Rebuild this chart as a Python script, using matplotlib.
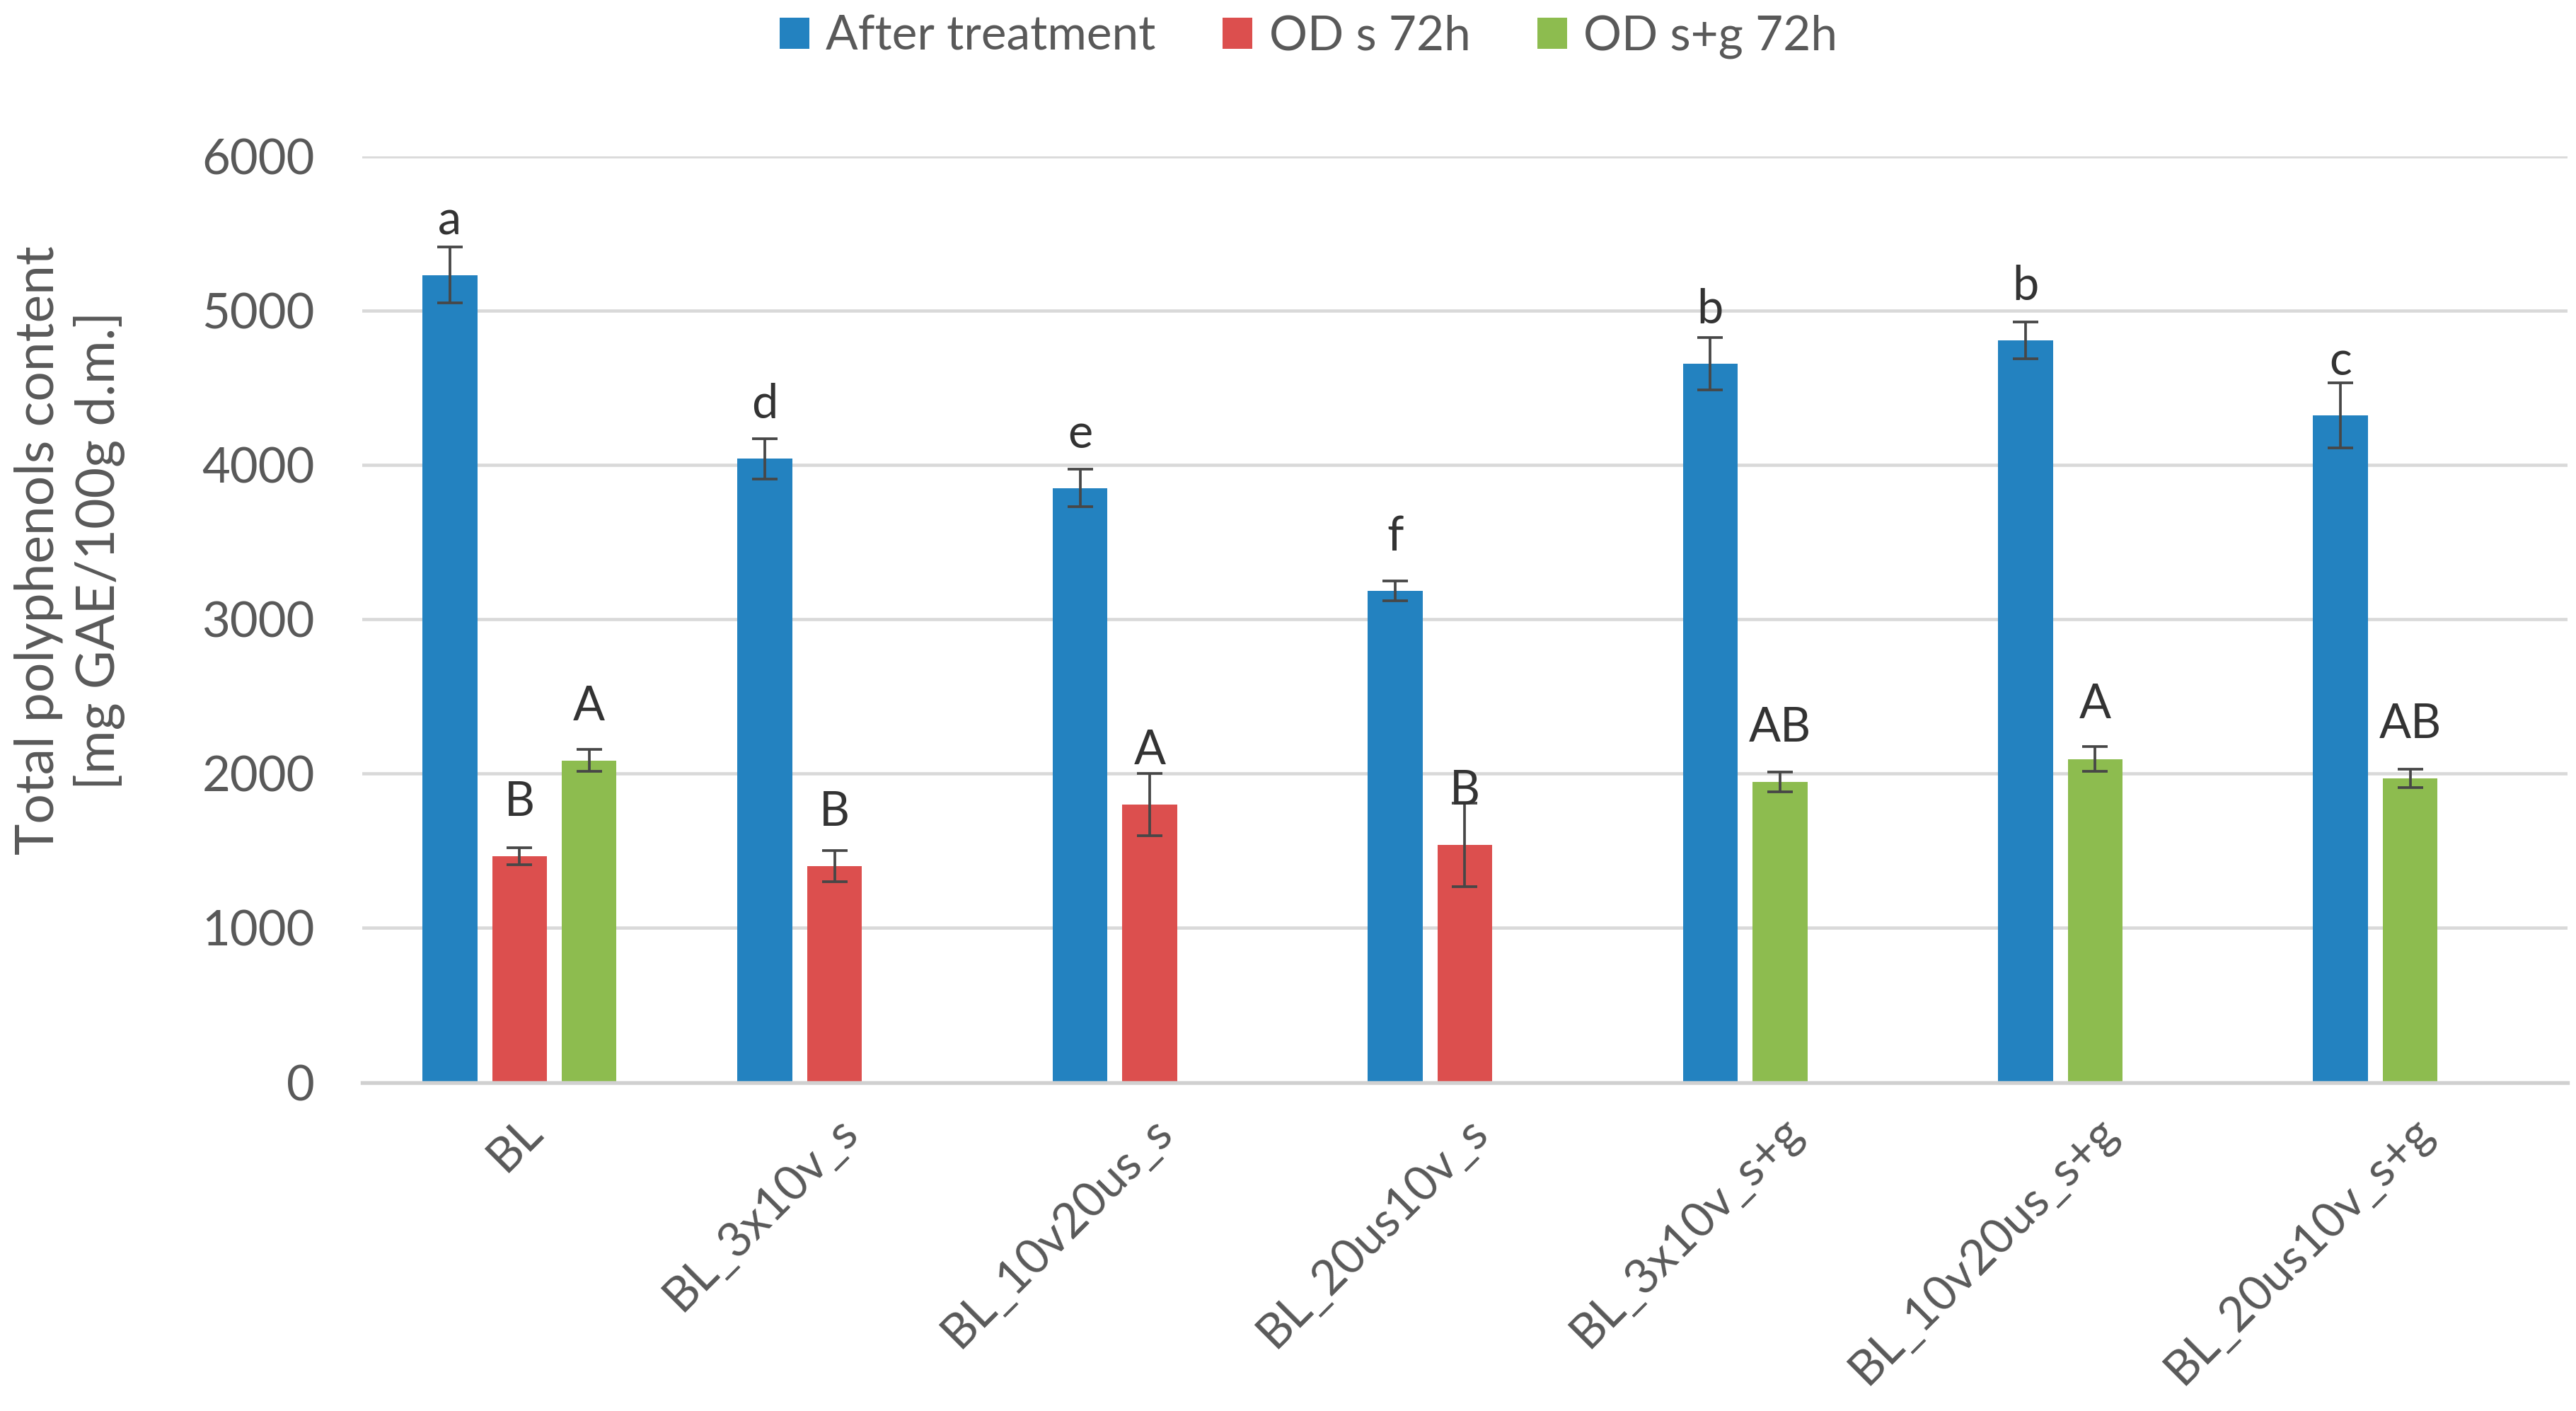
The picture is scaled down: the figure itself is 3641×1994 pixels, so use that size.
import numpy as np
import matplotlib
matplotlib.use('Agg')
import matplotlib.pyplot as plt
from matplotlib.patches import Patch

plt.rcParams['font.family'] = ['Lato', 'DejaVu Sans']

# ── data ──────────────────────────────────────────────────────────────────────
categories = ['BL', 'BL_3x10v_s', 'BL_10v20us_s', 'BL_20us10v_s',
              'BL_3x10v_s+g', 'BL_10v20us_s+g', 'BL_20us10v_s+g']
series_names = ['After treatment', 'OD s 72h', 'OD s+g 72h']

after_mean = [5230, 4040, 3850, 3185, 4655, 4805, 4320]
after_err  = [180, 130, 120, 65, 170, 120, 210]
after_lbl  = ['a', 'd', 'e', 'f', 'b', 'b', 'c']

ods_mean = [1465, 1400, 1800, 1540, None, None, None]
ods_err  = [55, 100, 200, 270, None, None, None]
ods_lbl  = ['B', 'B', 'A', 'B', None, None, None]

odsg_mean = [2085, None, None, None, 1945, 2095, 1970]
odsg_err  = [70, None, None, None, 65, 80, 60]
odsg_lbl  = ['A', None, None, None, 'AB', 'A', 'AB']

colors = ['#2382C0', '#DC4F4E', '#8DBC4F']

# ── layout ────────────────────────────────────────────────────────────────────
BAR_W = 0.174
STEP  = 0.221

fig = plt.figure(figsize=(3641 / 300, 1994 / 300), dpi=300)
ax = fig.add_axes([0.1405, 0.2329, 0.8563, 0.6565])

all_series = [(after_mean, after_err, after_lbl),
              (ods_mean, ods_err, ods_lbl),
              (odsg_mean, odsg_err, odsg_lbl)]

# bars present in a category are packed left to right (Excel skipped empties)
slot = np.zeros(len(categories), dtype=int)
for (means, errs, lbls), col in zip(all_series, colors):
    xs, ys, es, ls = [], [], [], []
    for i, m in enumerate(means):
        if m is None:
            continue
        xs.append(i + (slot[i] - 1) * STEP)
        ys.append(m); es.append(errs[i]); ls.append(lbls[i])
        slot[i] += 1
    ax.bar(xs, ys, width=BAR_W, color=col, zorder=2)
    ax.errorbar(xs, ys, yerr=es, fmt='none', ecolor='#474747',
                elinewidth=0.9, capsize=4.3, capthick=0.9, zorder=3)
    for x, y, l in zip(xs, ys, ls):
        ax.annotate(l, (x, y), xytext=(0, 13.7), textcoords='offset points',
                    ha='center', va='baseline', fontsize=16, color='#333333',
                    zorder=4)

# ── axes styling ──────────────────────────────────────────────────────────────
ax.set_xlim(-0.5, len(categories) - 0.5)
ax.set_ylim(0, 6000)
ax.set_yticks(np.arange(0, 6001, 1000))
ax.yaxis.grid(True, color='#D9D9D9', linewidth=1.1, zorder=0)
ax.set_axisbelow(True)
for s in ['top', 'right', 'left']:
    ax.spines[s].set_visible(False)
ax.spines['bottom'].set_color('#D0D0D0')
ax.spines['bottom'].set_linewidth(1.3)
ax.tick_params(axis='both', length=0, colors='#595959')
ax.tick_params(axis='y', pad=16, labelsize=16.5)
ax.tick_params(axis='x', pad=9, labelsize=16.3)

ax.set_xticks(range(len(categories)))
ax.set_xticklabels(categories, rotation=45, ha='right', rotation_mode='anchor')

fig.text(0.027, 0.61, 'Total polyphenols content\n[mg GAE/100g d.m.]',
         rotation=90, ha='center', va='center', multialignment='center',
         fontsize=18, color='#595959', linespacing=1.25)

handles = [Patch(facecolor=c) for c in colors]
fig.legend(handles, series_names, loc='center', bbox_to_anchor=(0.508, 0.974),
           ncol=3, frameon=False, fontsize=16.2, labelcolor='#595959',
           handlelength=0.62, handleheight=0.62, handletextpad=0.35,
           columnspacing=1.4)

fig.savefig('out.png', dpi=300)
